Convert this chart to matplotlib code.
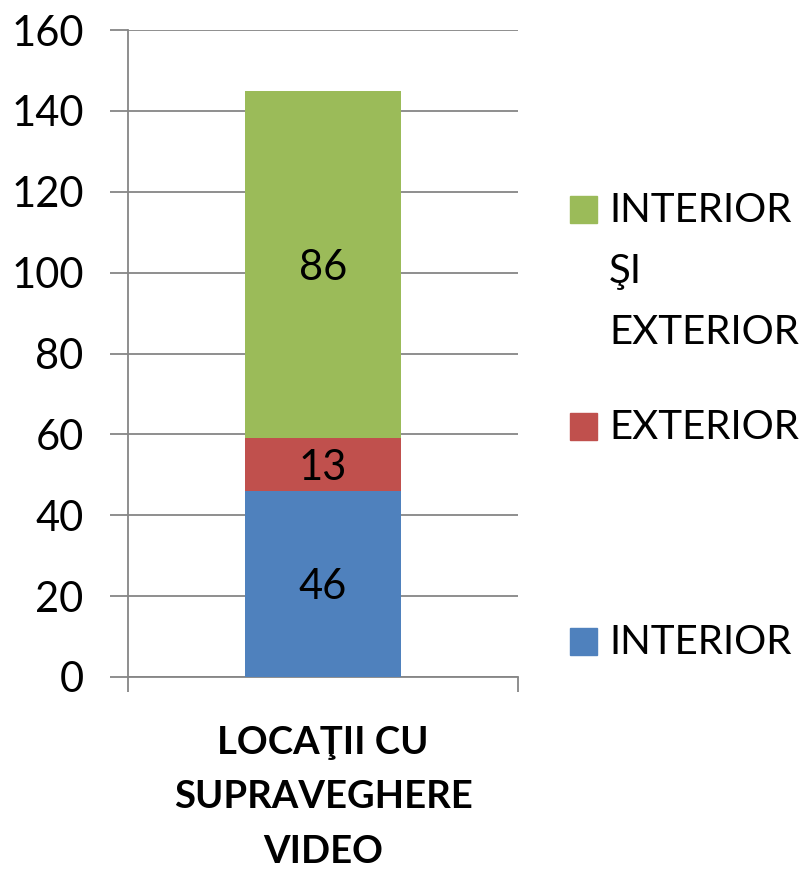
import matplotlib.pyplot as plt
from matplotlib.patches import Rectangle

plt.rcParams['font.family'] = ['Lato', 'DejaVu Sans']

category = 'LOCAŢII CU\nSUPRAVEGHERE\nVIDEO'
series = ['INTERIOR', 'EXTERIOR', 'INTERIOR\nŞI\nEXTERIOR']
values = [46, 13, 86]
colors = ['#4F81BD', '#C0504D', '#9BBB59']
yticks = [0, 20, 40, 60, 80, 100, 120, 140, 160]

fig = plt.figure(figsize=(8.05, 8.73), dpi=100)
ax = fig.add_axes([128 / 805, 1 - 677 / 873, 390 / 805, 647 / 873])

bottom = 0
for name, v, c in zip(series, values, colors):
    ax.bar(0, v, width=0.4, bottom=bottom, color=c, zorder=3)
    ax.text(0, bottom + v / 2, str(v), ha='center', va='center_baseline',
            fontsize=30, zorder=4)
    bottom += v

ax.set_xlim(-0.5, 0.5)
ax.set_ylim(0, 160)
ax.set_yticks(yticks)
ax.yaxis.grid(True, color='#868686', linewidth=1.3, zorder=0)
ax.tick_params(axis='y', labelsize=30, length=13, width=1.3, color='#868686', pad=19)
ax.set_xticks([0])
ax.set_xticklabels([category], fontsize=27.5, fontweight='bold', linespacing=1.74)
ax.tick_params(axis='x', which='major', length=0, pad=35)
ax.set_xticks([-0.5, 0.5], minor=True)
ax.tick_params(axis='x', which='minor', length=11, width=1.3, color='#868686')
for s in ['top', 'right']:
    ax.spines[s].set_visible(False)
for s in ['left', 'bottom']:
    ax.spines[s].set_color('#868686')
    ax.spines[s].set_linewidth(1.3)

# legend, Excel-style spread along the right side (y = first line centre, px)
legend_y = [642, 427, 210]
for name, c, y in zip(series, colors, legend_y):
    fig.patches.append(Rectangle((570 / 805, 1 - (y + 13) / 873), 27 / 805, 27 / 873,
                                 transform=fig.transFigure, color=c))
    fig.text(609 / 805, 1 - (y - 18) / 873, name, fontsize=29, va='top', ha='left',
             linespacing=1.8)

fig.savefig('out.png', dpi=100)
